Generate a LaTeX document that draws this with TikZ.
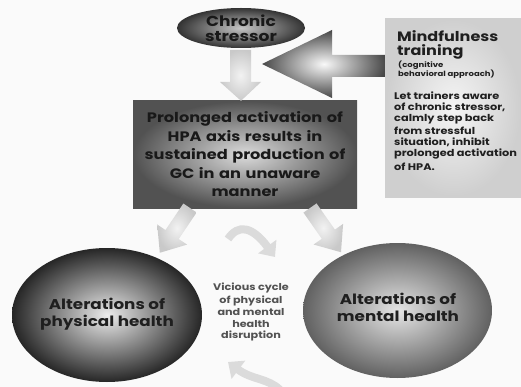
\documentclass[tikz,border=0pt]{standalone}
\usepackage{fontspec}
\setmainfont{Poppins}[FakeStretch=1.18]
\usetikzlibrary{arrows.meta,shapes.geometric}
\begin{document}
\begin{tikzpicture}[x=1pt,y=-1pt,
  every node/.style={text=black!88},
  lbl/.style={font=\bfseries\fontsize{#1}{#1}\selectfont, inner sep=0pt},
  blockarrow/.style={draw=none, shading=radial, inner color=gray!10, outer color=gray!42},
  cyclearrow/.style={line width=8pt, draw=gray!28, -{Triangle[width=22pt,length=13pt]}},
]
\useasboundingbox (0,0) rectangle (521,387);
\fill[black!2] (0,0) rectangle (521,387);

% big arrow from mindfulness box to stressor (behind)
\coordinate (bst) at (386,55);
\coordinate (bsb) at (386,77);
\coordinate (btip) at (262,64);
\path[shading=radial, inner color=gray!5, outer color=black!72]
  (bst) -- (332,55) -- (332,30) -- (btip) -- (332,98) -- (332,77) -- (bsb) -- cycle;

% nodes
\node[ellipse, minimum width=128pt, minimum height=40pt, inner sep=0pt,
      shading=radial, inner color=gray!45, outer color=black!80] (stress) at (241,28) {};
\node[rectangle, minimum width=224pt, minimum height=107pt, inner sep=0pt,
      shading=radial, inner color=gray!28, outer color=black!68] (hpa) at (245,154.5) {};
\node[rectangle, minimum width=136pt, minimum height=179pt, inner sep=0pt, anchor=north west,
      shading=radial, inner color=gray!8, outer color=gray!38] (mind) at (385,18) {};
\node[ellipse, minimum width=190pt, minimum height=134pt, inner sep=0pt,
      shading=radial, inner color=gray!15, outer color=black!85] (phys) at (107,315) {};
\node[ellipse, minimum width=189pt, minimum height=135pt, inner sep=0pt,
      shading=radial, inner color=gray!20, outer color=black!62] (ment) at (397.5,310.5) {};

% texts
\node[lbl=14.5, align=center, text=black!90] (stresst) at (241,28.5) {Chronic\\[0pt]stressor};
\node[lbl=13.7, align=center, text=black!90, text width=224pt] (hpat) at (245,154)
  {Prolonged activation of\\[3.8pt]HPA axis results in\\[3.8pt]sustained production of\\[3.8pt]GC in an unaware\\[3.8pt]manner};
\node[lbl=14.2, align=center] (physt) at (107,314) {Alterations of\\[3pt]physical health};
\node[lbl=14.2, align=center] (mentt) at (398,307) {Alterations of\\[3pt]mental health};
\node[lbl=9.5, align=center, text=black!68] (vicious) at (251,312)
  {Vicious cycle\\[2pt]of physical\\[2pt]and mental\\[2pt]health\\[2pt]disruption};

\node[lbl=13.6, anchor=base west, align=left] (mtitle) at (397,56) {Mindfulness\\[1pt]training};
\node[lbl=7.2, anchor=base west, align=left] (mcbt) at (398,77) {(cognitive\\[-0.5pt]behavioral approach)};
\node[lbl=9.6, anchor=base west, align=left] (mbody) at (394,171)
  {Let trainers aware\\[1.4pt]of chronic stressor,\\[1.4pt]calmly step back\\[1.4pt]from stressful\\[1.4pt]situation, inhibit\\[1.4pt]prolonged activation\\[3.5pt]of HPA.};

% down arrow from stressor to hpa box
\coordinate (dtip) at (hpa.north -| stress.south);
\path[blockarrow]
  (230,50) -- (251,50) -- (251,82) -- (261,82) -- (dtip) -- (220,82) -- (230,82) -- cycle;

% diagonal arrows
\coordinate (la) at (190,208);
\coordinate (ra) at (310,208);
\begin{scope}[shift={(la)}, rotate=-124]
  \path[blockarrow] (0,-8) -- (32,-8) -- (32,-18) -- (54,0) -- (32,18) -- (32,8) -- (0,8) -- cycle;
\end{scope}
\begin{scope}[shift={(ra)}, rotate=-55]
  \path[blockarrow] (0,-8) -- (32,-8) -- (32,-18) -- (54,0) -- (32,18) -- (32,8) -- (0,8) -- cycle;
\end{scope}

% cycle arrows
\coordinate (c1s) at (228,239);
\coordinate (c1e) at (275,257);
\draw[cyclearrow] (c1s) .. controls (238,224) and (252,226) .. (c1e);
\coordinate (c2s) at (280,390);
\coordinate (c2e) at (228,362);
\draw[cyclearrow] (c2s) .. controls (268,378) and (252,380) .. (c2e);
\end{tikzpicture}
\end{document}
